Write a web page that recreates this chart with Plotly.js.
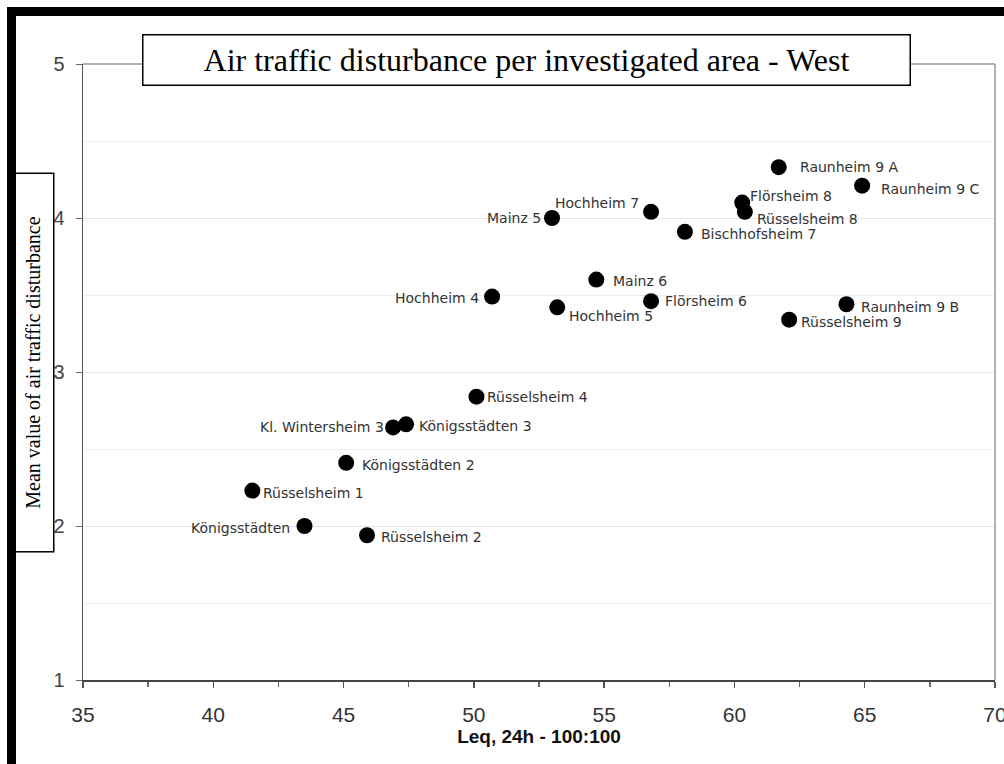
<!DOCTYPE html>
<html><head><meta charset="utf-8">
<script src="https://cdn.plot.ly/plotly-3.0.1.min.js"></script>
<style>
html,body{margin:0;padding:0;background:#fff;}
#wrap{position:relative;width:1004px;height:764px;overflow:hidden;}
#chart{position:absolute;left:0;top:0;width:1004px;height:764px;}
.bt{position:absolute;background:#000;}
</style></head><body>
<div id="wrap"><div id="chart"></div>
<div class="bt" style="left:7px;top:7px;width:997px;height:9px"></div>
<div class="bt" style="left:7px;top:7px;width:9px;height:757px"></div>
</div>
<script>
const areas = ["Raunheim 9 A","Raunheim 9 C","Flörsheim 8","Rüsselsheim 8","Hochheim 7","Mainz 5",
  "Bischhofsheim 7","Mainz 6","Hochheim 4","Hochheim 5","Flörsheim 6","Raunheim 9 B","Rüsselsheim 9",
  "Rüsselsheim 4","Königsstädten 3","Kl. Wintersheim 3","Königsstädten 2","Rüsselsheim 1",
  "Königsstädten","Rüsselsheim 2"];
const leq = [61.7, 64.9, 60.3, 60.4, 56.8, 53.0, 58.1, 54.7, 50.7, 53.2, 56.8, 64.3, 62.1,
  50.1, 47.4, 46.9, 45.1, 41.5, 43.5, 45.9];
const meanDisturbance = [4.33, 4.21, 4.10, 4.04, 4.04, 4.00, 3.91, 3.60, 3.49, 3.42, 3.46, 3.44, 3.34,
  2.84, 2.66, 2.64, 2.41, 2.23, 2.00, 1.94];
// label placement: side of the point and pixel offset [right, up]
const labelSide = ["left","left","left","left","right","right",
  "left","left","right","left","left","left","left",
  "left","left","right","left","left","right","left"];
const labelOffset = [[19,0],[17,-3],[6,7],[10,-7],[-10,9],[-9,0],
  [14,-2],[15,-1],[-11,-1],[10,-9],[12,0],[13,-3],[10,-2],
  [9,0],[11,-2],[-7,0],[14,-2],[9,-2],[-12,-2],[12,-2]];
const xTicks = [35, 40, 45, 50, 55, 60, 65, 70];
const yTicks = [1, 2, 3, 4, 5];

const trace = {
  type: "scatter",
  mode: "markers",
  x: leq,
  y: meanDisturbance,
  text: areas,
  marker: {color: "#000", size: 16},
  hoverinfo: "text+x+y",
  cliponaxis: false,
  showlegend: false
};

const pointLabels = areas.map((name, i) => ({
  text: name, x: leq[i], y: meanDisturbance[i], xref: "x", yref: "y",
  xanchor: labelSide[i], yanchor: "middle", showarrow: false,
  xshift: labelOffset[i][0], yshift: labelOffset[i][1],
  font: {family: "DejaVu Sans, Arial, sans-serif", size: 14, color: "#333"}
}));

const layout = {
  width: 1004, height: 764,
  margin: {l: 83, r: 9, t: 64, b: 84},
  paper_bgcolor: "#fff", plot_bgcolor: "#fff",
  showlegend: false,
  xaxis: {
    range: [35, 70], tickvals: xTicks, ticktext: xTicks.map(String),
    ticks: "outside", ticklen: 6, tickcolor: "#555", tickwidth: 1.5,
    showline: true, linecolor: "#444", linewidth: 2,
    showgrid: false, zeroline: false,
    tickfont: {family: "Liberation Sans, Arial, sans-serif", size: 21, color: "#333"},
    ticklabelstandoff: 9, ticklabeloverflow: "allow",
    minor: {dtick: 2.5, tick0: 35, ticks: "outside", ticklen: 5, tickcolor: "#666", showgrid: false},
    title: {text: "<b>Leq, 24h - 100:100</b>", standoff: 0,
      font: {family: "Liberation Sans, Arial, sans-serif", size: 19, color: "#111"}}
  },
  yaxis: {
    range: [1, 5], tickvals: yTicks, ticktext: yTicks.map(String),
    ticks: "outside", ticklen: 6, tickcolor: "#666", tickwidth: 1,
    showline: true, linecolor: "#555", linewidth: 1.5,
    showgrid: true, gridcolor: "#e6e6e6", gridwidth: 1, zeroline: false,
    minor: {dtick: 0.5, tick0: 1, showgrid: true, gridcolor: "#eeeeee", ticks: ""},
    tickfont: {family: "Liberation Sans, Arial, sans-serif", size: 20, color: "#444"},
    ticklabelstandoff: 7
  },
  shapes: [
    {type: "line", xref: "paper", yref: "paper", x0: 0, x1: 1, y0: 1, y1: 1, line: {color: "#999", width: 1.5}},
    {type: "line", xref: "paper", yref: "paper", x0: 1, x1: 1, y0: 0, y1: 1, line: {color: "#999", width: 1.5}}
  ],
  annotations: pointLabels.concat([
    {text: "Air traffic disturbance per investigated area - West", xref: "paper", yref: "paper",
     x: 0.4868, y: 1.0073, xanchor: "center", yanchor: "middle", showarrow: false,
     font: {family: "Liberation Serif, Times New Roman, serif", size: 32, color: "#000"},
     bgcolor: "#fff", bordercolor: "#000", borderwidth: 1.5, borderpad: 0, width: 766, height: 49},
    {text: "Mean value of air traffic disturbance", xref: "paper", yref: "paper",
     x: -0.0548, y: 0.5154, xanchor: "center", yanchor: "middle", showarrow: false, textangle: -90,
     font: {family: "Liberation Serif, Times New Roman, serif", size: 20, color: "#000"},
     bgcolor: "#fff", bordercolor: "#000", borderwidth: 1.5, borderpad: 0, width: 377, height: 40}
  ])
};

Plotly.newPlot("chart", [trace], layout, {displayModeBar: false, staticPlot: true});
</script>
</body></html>
